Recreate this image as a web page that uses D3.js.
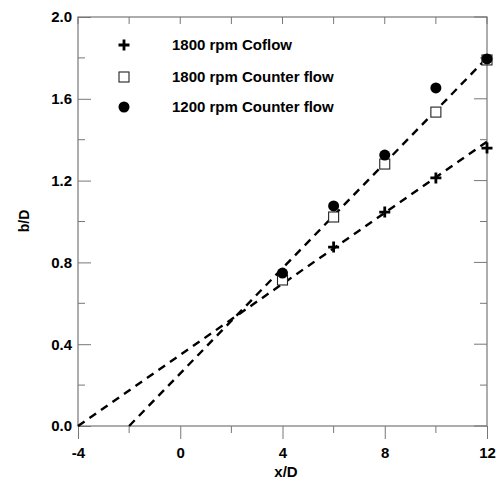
<!DOCTYPE html>
<html>
<head>
<meta charset="utf-8">
<script src="https://cdn.jsdelivr.net/npm/d3@7"></script>
<style>
  body { margin: 0; background: #fff; }
  text { font-family: "Liberation Sans", Arial, sans-serif; }
</style>
</head>
<body>
<svg id="chart" width="500" height="479"></svg>
<script>
const xPositions = [4, 6, 8, 10, 12];
const coflow1800 = [0.73, 0.875, 1.046, 1.213, 1.359];
const counter1800 = [0.714, 1.022, 1.281, 1.535, 1.79];
const counter1200 = [0.748, 1.076, 1.325, 1.653, 1.795];

// dashed fit lines, [x, y] end points
const fitCoflow = [[-4, 0], [12, 1.39]];
const fitCounter = [[-2, 0], [12, 1.80]];

const xTicks = [-4, 0, 4, 8, 12];
const xMinor = [-2, 2, 6, 10];
const yTicks = [0.0, 0.4, 0.8, 1.2, 1.6, 2.0];
const yMinor = [0.2, 0.6, 1.0, 1.4, 1.8];

const legendLabels = ["1800 rpm Coflow", "1800 rpm Counter flow", "1200 rpm Counter flow"];

const margin = { top: 17, right: 13, bottom: 53, left: 78 };
const width = 500 - margin.left - margin.right;
const height = 479 - margin.top - margin.bottom;

const svg = d3.select("#chart");
const chartArea = svg.append("g")
    .attr("transform", `translate(${margin.left},${margin.top})`);

const xScale = d3.scaleLinear().domain([-4, 12]).range([0, width]);
const yScale = d3.scaleLinear().domain([0, 2]).range([height, 0]);

const axisColor = "#777";

// frame
chartArea.append("rect")
    .attr("width", width)
    .attr("height", height)
    .attr("fill", "none")
    .attr("stroke", axisColor)
    .attr("stroke-width", 1.2);

// bottom axis: ticks outward
const xAxisG = chartArea.append("g")
    .attr("transform", `translate(0,${height})`)
    .call(d3.axisBottom(xScale).tickValues(xTicks).tickSize(13).tickPadding(6)
        .tickFormat(d => String(d)).tickSizeOuter(0));
xAxisG.append("g").selectAll("line")
    .data(xMinor)
    .join("line")
    .attr("x1", d => xScale(d)).attr("x2", d => xScale(d))
    .attr("y1", 0).attr("y2", 7);

// top ticks inward
chartArea.append("g").selectAll("line")
    .data(xTicks.concat(xMinor))
    .join("line")
    .attr("x1", d => xScale(d)).attr("x2", d => xScale(d))
    .attr("y1", 0).attr("y2", 7)
    .attr("stroke", axisColor);

// left axis: ticks inward
const yAxisG = chartArea.append("g")
    .call(d3.axisLeft(yScale).tickValues(yTicks).tickSize(-13).tickPadding(6)
        .tickFormat(d3.format(".1f")).tickSizeOuter(0));
yAxisG.selectAll(".tick text").attr("x", -6);
yAxisG.append("g").selectAll("line")
    .data(yMinor)
    .join("line")
    .attr("x1", 0).attr("x2", 7)
    .attr("y1", d => yScale(d)).attr("y2", d => yScale(d));

// right ticks inward
chartArea.append("g").selectAll("line")
    .data(yTicks)
    .join("line")
    .attr("x1", width - 13).attr("x2", width)
    .attr("y1", d => yScale(d)).attr("y2", d => yScale(d))
    .attr("stroke", axisColor);
chartArea.append("g").selectAll("line")
    .data(yMinor)
    .join("line")
    .attr("x1", width - 7).attr("x2", width)
    .attr("y1", d => yScale(d)).attr("y2", d => yScale(d))
    .attr("stroke", axisColor);

chartArea.selectAll(".domain").remove();
chartArea.selectAll(".tick line, g > g > line").attr("stroke", axisColor);
chartArea.selectAll(".tick text")
    .attr("fill", "#000")
    .attr("font-size", 15)
    .attr("font-weight", "bold");
xAxisG.selectAll(".tick text").attr("dy", "0.85em");

// fit lines
const line = d3.line().x(d => xScale(d[0])).y(d => yScale(d[1]));
[fitCoflow, fitCounter].forEach(pts => {
    chartArea.append("path")
        .attr("d", line(pts))
        .attr("fill", "none")
        .attr("stroke", "#000")
        .attr("stroke-width", 2.4)
        .attr("stroke-dasharray", "8,6");
});

// markers
const drawPlus = (g, x, y) => {
    g.append("path")
        .attr("d", `M${x - 5.5},${y}H${x + 5.5}M${x},${y - 5.5}V${y + 5.5}`)
        .attr("stroke", "#000")
        .attr("stroke-width", 2.8)
        .attr("fill", "none");
};
const drawSquare = (g, x, y) => {
    g.append("rect")
        .attr("x", x - 5).attr("y", y - 5)
        .attr("width", 10).attr("height", 10)
        .attr("fill", "#fff")
        .attr("stroke", "#222")
        .attr("stroke-width", 1.1);
};
const drawCircle = (g, x, y) => {
    g.append("circle")
        .attr("cx", x).attr("cy", y).attr("r", 5.5)
        .attr("fill", "#000");
};

const markerG = chartArea.append("g");
xPositions.forEach((xv, i) => {
    drawPlus(markerG, xScale(xv), yScale(coflow1800[i]));
});
xPositions.forEach((xv, i) => {
    drawSquare(markerG, xScale(xv), yScale(counter1800[i]));
});
xPositions.forEach((xv, i) => {
    drawCircle(markerG, xScale(xv), yScale(counter1200[i]));
});

// legend
const legendG = svg.append("g");
const drawers = [drawPlus, drawSquare, drawCircle];
const legendY = [45, 77, 107];
legendLabels.forEach((label, i) => {
    drawers[i](legendG, 124, legendY[i]);
    legendG.append("text")
        .attr("x", 172)
        .attr("y", legendY[i] + 5)
        .attr("font-size", 15)
        .attr("font-weight", "bold")
        .text(label);
});

// axis titles
svg.append("text")
    .attr("x", 286)
    .attr("y", 477)
    .attr("text-anchor", "middle")
    .attr("font-size", 15)
    .attr("font-weight", "bold")
    .text("x/D");

svg.append("text")
    .attr("transform", `translate(29,221) rotate(-90)`)
    .attr("text-anchor", "middle")
    .attr("font-size", 14)
    .attr("font-weight", "bold")
    .text("b/D");
</script>
</body>
</html>
